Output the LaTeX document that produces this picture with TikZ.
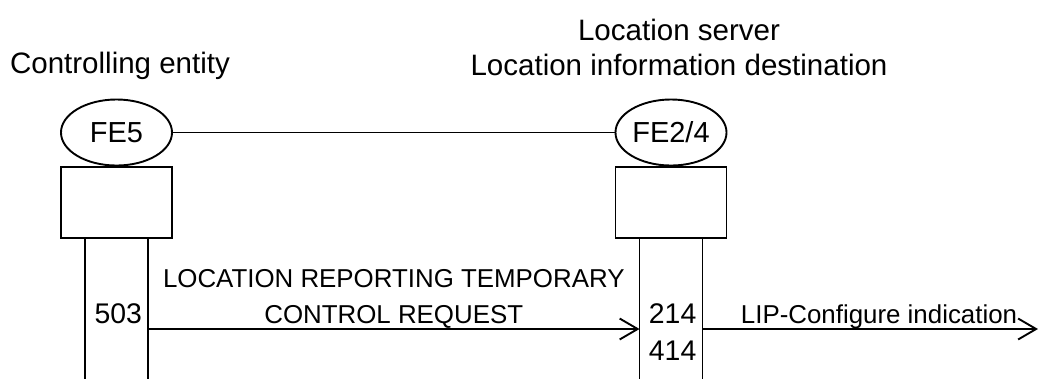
\documentclass[tikz,border=0pt]{standalone}
\usepackage{fontspec}
\setmainfont{Liberation Sans}
\usetikzlibrary{shapes.geometric, arrows.meta, positioning}

\begin{document}
\begin{tikzpicture}[x=0.025cm, y=-0.025cm, line width=1.35pt,
	every node/.style={font=\fontsize{18.4}{25.5}\selectfont, inner sep=0pt},
	fe/.style={draw, ellipse, minimum width=2.775cm, minimum height=1.65cm, font=\fontsize{20.6}{24}\selectfont},
	febox/.style={draw, rectangle, minimum width=2.775cm, minimum height=1.775cm},
	life/.style={minimum width=1.525cm, minimum height=3.525cm},
	num/.style={font=\fontsize{20.2}{26.2}\selectfont},
	title/.style={font=\fontsize{21}{24.8}\selectfont, align=center},
	msg/.style={-{Straight Barb[length=0.45cm, width=0.525cm]}}]
	\useasboundingbox (0,0) rectangle (1040,378);
	%
	% Entites fonctionnelles
	\node[fe] (fe5) at (116.5,132.5) {FE5};
	\node[fe] (fe24) at (671,132.5) {FE2/4};
	\draw (fe5.east) -- (fe24.west);
	%
	\node[febox, below=0pt of fe5] (box5) {};
	\node[febox, below=0pt of fe24] (box24) {};
	%
	% Titres
	\node[title, anchor=base] (tctrl) at (120,73) {Controlling entity};
	\node[title, anchor=base] (tserv) at (679,75) {Location server\\Location information destination};
	%
	% Lignes de vie
	\node[life, below=0pt of box5] (life5) {};
	\node[life, below=0pt of box24] (life24) {};
	\draw (life5.north west) -- (life5.south west);
	\draw (life5.north east) -- (life5.south east);
	\draw (life24.north west) -- (life24.south west);
	\draw (life24.north east) -- (life24.south east);
	%
	% Messages
	\coordinate (msgy) at (0,329);
	\coordinate (lipend) at (1038,329);
	\draw[msg] (life5.east |- msgy) -- (life24.west |- msgy)
		node[midway, anchor=base, yshift=0.15cm, align=center] (req) {LOCATION REPORTING TEMPORARY\\CONTROL REQUEST};
	\draw[msg] (life24.east |- msgy) -- (lipend);
	\node[anchor=base west] (lip) at (740,323) {LIP-Configure indication};
	%
	% Numeros
	\node[num, anchor=base east] (n503) at (143,323) {503};
	\node[num, anchor=base west, align=left] (n214) at (648,360) {214\\414};
\end{tikzpicture}
\end{document}
